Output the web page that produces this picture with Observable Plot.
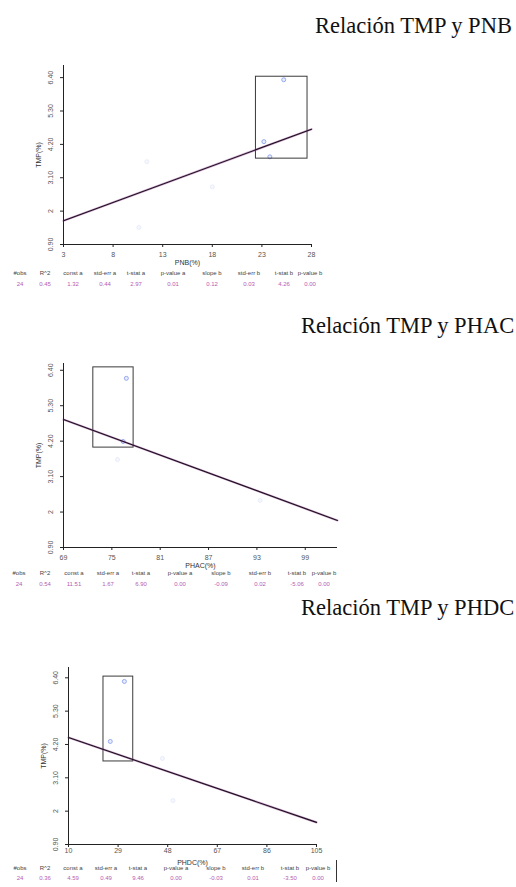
<!DOCTYPE html>
<html><head><meta charset="utf-8">
<script src="https://cdn.jsdelivr.net/npm/d3@7"></script>
<script src="https://cdn.jsdelivr.net/npm/@observablehq/plot@0.6"></script>
<style>
html,body{margin:0;padding:0;background:#fff;width:516px;height:887px;overflow:hidden;}
#root{position:relative;width:516px;height:887px;overflow:hidden;}
.title{position:absolute;font-family:"Liberation Serif","Times New Roman",serif;font-size:22.5px;line-height:22px;color:#111;white-space:nowrap;}
.plot{position:absolute;left:0;}
.row{position:absolute;left:0;width:516px;height:8px;font-family:"Liberation Sans",Arial,sans-serif;font-size:6px;line-height:8px;}
.row span{position:absolute;top:0;transform:translateX(-50%);white-space:nowrap;}
.hdr{color:#444;}
.val{color:#b45cb4;}
.bar{position:absolute;border-left:1px solid #333;}
</style>
</head><body><div id="root"></div>
<script>
// ---------- data ----------
const titles = ["Relación TMP y PNB", "Relación TMP y PHAC", "Relación TMP y PHDC"];
const xLabels = ["PNB(%)", "PHAC(%)", "PHDC(%)"];
const yLabel = "TMP(%)";
const yTicks = [0.9, 2, 3.1, 4.2, 5.3, 6.4];
const yTickLabels = ["0.90", "2", "3.10", "4.20", "5.30", "6.40"];
const xTicks1 = [3, 8, 13, 18, 23, 28];
const xTicks2 = [69, 75, 81, 87, 93, 99];
const xTicks3 = [10, 29, 48, 67, 86, 105];

const statHeaders = ["#obs", "R^2", "const a", "std-err a", "t-stat a", "p-value a", "slope b", "std-err b", "t-stat b", "p-value b"];
const stats1 = ["24", "0.45", "1.32", "0.44", "2.97", "0.01", "0.12", "0.03", "4.26", "0.00"];
const stats2 = ["24", "0.54", "11.51", "1.67", "6.90", "0.00", "-0.09", "0.02", "-5.06", "0.00"];
const stats3 = ["24", "0.36", "4.59", "0.49", "9.46", "0.00", "-0.03", "0.01", "-3.50", "0.00"];

// regression line end points (x, y) as drawn
const fitX1 = [3, 28],   fitY1 = [1.68, 4.70];
const fitX2 = [69, 103], fitY2 = [4.87, 1.74];
const fitX3 = [10, 105], fitY3 = [4.43, 1.63];

// highlighted observations (inside the box)
const hiX1 = [25.2, 23.2, 23.8], hiY1 = [6.33, 4.29, 3.79];
const hiX2 = [76.8, 76.4],       hiY2 = [6.15, 4.19];
const hiX3 = [31.4, 26.0],       hiY3 = [6.28, 4.30];

// other (faint) observations
const loX1 = [11.4, 18.0, 10.6], loY1 = [3.63, 2.80, 1.46];
const loX2 = [75.7, 93.4],       loY2 = [3.63, 2.36];
const loX3 = [50.0, 46.0],       loY3 = [2.35, 3.74];

// boxes [x1, x2, y1, y2]
const box1 = [22.4, 27.6, 3.73, 6.43];
const box2 = [72.7, 77.7, 4.00, 6.49];
const box3 = [23.4, 34.8, 3.64, 6.44];

// ---------- layout ----------
const panels = [
  {title: titles[0], titleLeft: 315, titleTop: 15, xLabel: xLabels[0], xTicks: xTicks1,
   xDomain: [3, 28], yDomain: [0.9, 6.8], top: 45, frameBottom: 244, mL: 63, mR: 205, mT: 20, mB: 25, tickPad: 5,
   fitX: fitX1, fitY: fitY1, hiX: hiX1, hiY: hiY1, loX: loX1, loY: loY1, box: box1,
   stats: stats1, hdrY: 269, valY: 280, cols: [20, 45, 73, 105, 136, 173, 212, 249, 284, 310]},
  {title: titles[1], titleLeft: 301, titleTop: 315, xLabel: xLabels[1], xTicks: xTicks2,
   xDomain: [69, 103], yDomain: [0.9, 6.61], top: 343, frameBottom: 547, mL: 63, mR: 179, mT: 20, mB: 25, tickPad: 5,
   fitX: fitX2, fitY: fitY2, hiX: hiX2, hiY: hiY2, loX: loX2, loY: loY2, box: box2,
   stats: stats2, hdrY: 569, valY: 580, cols: [19, 45, 74, 108, 141, 180, 221, 260, 297, 324]},
  {title: titles[2], titleLeft: 301, titleTop: 597, xLabel: xLabels[2], xTicks: xTicks3,
   xDomain: [10, 105], yDomain: [0.9, 6.74], top: 647, frameBottom: 844, mL: 68, mR: 200, mT: 20, mB: 22, tickPad: 1,
   fitX: fitX3, fitY: fitY3, hiX: hiX3, hiY: hiY3, loX: loX3, loY: loY3, box: box3,
   stats: stats3, hdrY: 864, valY: 874, cols: [20, 45, 73, 106, 138, 176, 216, 253, 290, 318]}
];

const root = document.getElementById("root");

for (const p of panels) {
  const t = document.createElement("div");
  t.className = "title";
  t.style.left = p.titleLeft + "px";
  t.style.top = p.titleTop + "px";
  t.textContent = p.title;
  root.appendChild(t);

  const height = p.frameBottom - p.top + p.mB;

  const fit = p.fitX.map((x, i) => ({x, y: p.fitY[i]}));
  const hi = p.hiX.map((x, i) => ({x, y: p.hiY[i]}));
  const lo = p.loX.map((x, i) => ({x, y: p.loY[i]}));

  const svg = Plot.plot({
    width: 516, height,
    marginLeft: p.mL, marginRight: p.mR, marginTop: p.mT, marginBottom: p.mB,
    style: {background: "transparent", overflow: "visible", fontFamily: "Liberation Sans, Arial, sans-serif", fontSize: "7px", color: "#333"},
    x: {domain: p.xDomain, label: null},
    y: {domain: p.yDomain, label: null},
    marks: [
      Plot.dot(lo, {x: "x", y: "y", r: 2, stroke: "#dfe5f8", strokeWidth: 0.7, fill: "#f6f8fe"}),
      Plot.dot(hi, {x: "x", y: "y", r: 2, stroke: "#8aa0ee", strokeWidth: 0.9, fill: "#e8edff"}),
      Plot.rect([p.box], {x1: d => d[0], x2: d => d[1], y1: d => d[2], y2: d => d[3], fill: "none", stroke: "#3a3a3a", strokeWidth: 1}),
      Plot.line(fit, {x: "x", y: "y", stroke: "#9a4f9a", strokeWidth: 2.2, strokeOpacity: 0.5}),
      Plot.line(fit, {x: "x", y: "y", stroke: "#1d0d1f", strokeWidth: 1.1}),
      Plot.ruleX([p.xDomain[0]], {stroke: "#222", strokeWidth: 1}),
      Plot.ruleY([p.yDomain[0]], {stroke: "#222", strokeWidth: 1}),
      Plot.axisX(p.xTicks, {tickSize: 3, tickPadding: p.tickPad, fontSize: 7, label: null, stroke: "#222", fill: "#555"}),
      Plot.axisY(yTicks, {tickSize: 3, tickFormat: () => "", label: null, stroke: "#222"}),
      Plot.text(yTicks, {y: d => d, text: (d, i) => yTickLabels[i], frameAnchor: "left", dx: -13, rotate: -90, textAnchor: "middle", lineAnchor: "middle", fontSize: 7, fill: "#555"}),
      Plot.text([yLabel], {text: d => d, frameAnchor: "left", dx: -25, rotate: -90, textAnchor: "middle", lineAnchor: "middle", fontSize: 7, fill: "#333"}),
      Plot.text([p.xLabel], {text: d => d, frameAnchor: "bottom", dy: 18, textAnchor: "middle", lineAnchor: "middle", fontSize: 7, fill: "#333"})
    ]
  });
  svg.classList.add("plot");
  svg.style.position = "absolute";
  svg.style.left = "0px";
  svg.style.top = p.top + "px";
  root.appendChild(svg);

  const makeRow = (cells, y, cls) => {
    const r = document.createElement("div");
    r.className = "row " + cls;
    r.style.top = y + "px";
    cells.forEach((c, i) => {
      const s = document.createElement("span");
      s.style.left = p.cols[i] + "px";
      s.textContent = c;
      r.appendChild(s);
    });
    root.appendChild(r);
  };
  makeRow(statHeaders, p.hdrY, "hdr");
  makeRow(p.stats, p.valY, "val");
}

const bar = document.createElement("div");
bar.className = "bar";
bar.style.left = "336px";
bar.style.top = "860px";
bar.style.height = "22px";
root.appendChild(bar);
</script>
</body></html>
